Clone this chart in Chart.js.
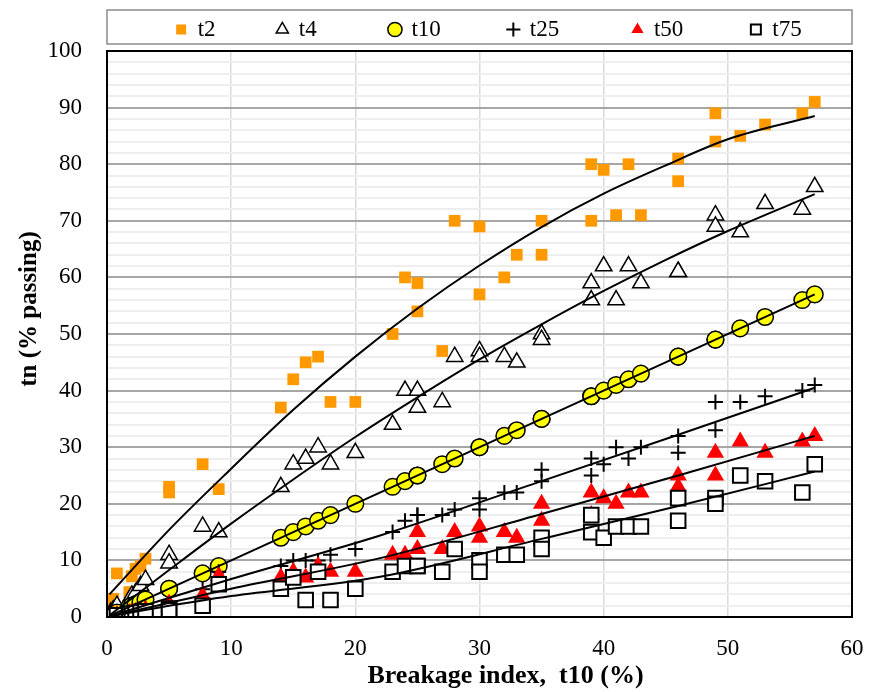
<!DOCTYPE html>
<html lang="en">
<head>
    <meta charset="UTF-8">
    <title>tn vs Breakage index t10</title>
    <script src="https://cdn.jsdelivr.net/npm/chart.js"></script>
    <style>
        html, body { margin: 0; padding: 0; background: #ffffff; }
    </style>
</head>
<body>
    <canvas id="grafico" width="869" height="692"></canvas>

    <script>
        // Breakage index t10 (x) - one entry per test, shared by all series
        const t10 = [0.3, 0.5, 0.8, 1.8, 2.0, 2.3, 2.7, 3.1, 5, 5, 7.7, 9, 14, 15, 16, 17, 18, 20,
                     23, 24, 25, 25, 27, 28, 30, 30, 32, 33, 35, 35,
                     39, 39, 40, 41, 42, 43, 46, 46, 49, 49, 51, 53, 56, 57];

        // tn values (% passing)
        const t2Vals  = [2.4, 3.2, 7.7, 4.4, 7.2, 8.5, 9.0, 10.3, 23, 22, 27, 22.6, 37, 42, 45, 46, 38, 38,
                         50, 60, 59, 54, 47, 70, 69, 57, 60, 64, 70, 64,
                         80, 70, 79, 71, 80, 71, 81, 77, 89, 84, 85, 87, 89, 91];
        const t4Vals  = [0.8, 1.2, 2.0, 3.0, 3.8, 4.2, 5.5, 6.6, 11, 9.5, 16, 15, 23, 27, 28, 30, 27, 29,
                         34, 40, 40, 37, 38, 46, 47, 46, 46, 45, 50, 49,
                         59, 56, 62, 56, 62, 59, 61, 61, 71, 69, 68, 73, 72, 76];
        const t10Vals = t10.slice();
        const t25Vals = [0.1, 0.2, 0.4, 0.8, 1.0, 1.1, 1.3, 1.6, 2.5, 2.2, 4.9, 8, 9, 10, 10, 10, 11, 12,
                         15, 17, 18, 18, 18, 19, 21, 19, 22, 22, 26, 24,
                         28, 25, 27, 30, 28, 30, 32, 29, 38, 33, 38, 39, 40, 41];
        const t50Vals = [0.1, 0.2, 0.4, 0.7, 0.8, 0.9, 1.1, 1.3, 2.4, 1.8, 3.8, 7.3, 7, 8, 7, 9, 8, 8,
                         11, 11, 15, 12, 12, 15, 16, 14, 15, 14, 20, 17,
                         22, 18, 21, 20, 22, 22, 25, 23, 29, 25, 31, 29, 31, 32];
        const t75Vals = [0.1, 0.1, 0.3, 0.5, 0.6, 0.7, 0.8, 1.0, 1.5, 1.2, 2.0, 5.8, 5, 7, 3, 8, 3, 5,
                         8, 9, 9, 9, 8, 12, 10, 8, 11, 11, 14, 12,
                         18, 15, 14, 16, 16, 16, 21, 17, 21, 20, 25, 24, 22, 27];

        // trend lines, points
        const fit2X  = [0.2, 5, 10, 15, 20, 25, 30, 35, 40, 45, 50, 57];
        const fit2Y  = [4.0, 15.4, 26.2, 36.6, 46.0, 54.5, 62.1, 68.9, 74.8, 79.8, 84.4, 88.5];
        const fit4X  = [0.2, 5, 10, 15, 20, 25, 30, 35, 40, 45, 50, 57];
        const fit4Y  = [0.3, 8.3, 16.5, 24.3, 31.8, 38.8, 45.5, 51.7, 57.6, 63.1, 68.2, 74.7];
        const fit10X = [0.2, 57];
        const fit10Y = [0.2, 57];
        const fitLowX = [0.2, 4, 10, 22, 35, 46, 57];
        const fit25Y = [0.1, 2.7, 6.7, 14.4, 24.0, 32.2, 40.5];
        const fit50Y = [0.1, 2.0, 5.0, 10.4, 18.2, 25.0, 32.0];
        const fit75Y = [0.1, 1.6, 3.7, 7.1, 13.8, 19.6, 25.7];

        const pontos = ys => t10.map((x, i) => ({ x: x, y: ys[i] }));
        const curva = (xs, ys) => xs.map((x, i) => ({ x: x, y: ys[i] }));

        const linha = data => ({
            label: '', data: data, showLine: true, pointRadius: 0,
            borderColor: '#000000', borderWidth: 2,
            cubicInterpolationMode: 'monotone', order: 0
        });

        // spaces after each legend text to spread the entries like the original
        const legendGap = { t2: 9, t4: 11, t10: 10, t25: 11, t50: 10, t75: 7 };

        // frame round the plot and box round the legend
        const molduras = {
            id: 'molduras',
            afterDraw(chart) {
                const { ctx, chartArea: a, legend } = chart;
                ctx.save();
                ctx.strokeStyle = '#8c8c8c';
                ctx.lineWidth = 1.5;
                ctx.strokeRect(a.left, legend.top + 2, a.right - a.left, legend.bottom - legend.top - 9);
                ctx.strokeStyle = '#000000';
                ctx.lineWidth = 2;
                ctx.strokeRect(a.left, a.top, a.right - a.left, a.bottom - a.top);
                ctx.restore();
            }
        };

        const serif = '"Liberation Serif", "Times New Roman", serif';
        const fonte = { family: serif, size: 23 };

        new Chart(document.getElementById('grafico').getContext('2d'), {
            type: 'scatter',
            data: {
                datasets: [
                    { label: 't2', data: pontos(t2Vals), pointStyle: 'rect', pointRadius: 8.3,
                      backgroundColor: '#FF9900', borderColor: '#FF9900', borderWidth: 0, order: 6 },
                    { label: 't4', data: pontos(t4Vals), pointStyle: 'triangle', pointRadius: 9.5,
                      backgroundColor: '#FFFFFF', borderColor: '#000000', borderWidth: 1.5, order: 5 },
                    { label: 't10', data: pontos(t10Vals), pointStyle: 'circle', pointRadius: 8.3,
                      backgroundColor: '#FFFF00', borderColor: '#000000', borderWidth: 1.5, order: 4 },
                    { label: 't25', data: pontos(t25Vals), pointStyle: 'cross', pointRadius: 7.5,
                      backgroundColor: '#000000', borderColor: '#000000', borderWidth: 2, order: 3 },
                    { label: 't50', data: pontos(t50Vals), pointStyle: 'triangle', pointRadius: 10,
                      backgroundColor: '#FF0000', borderColor: '#FF0000', borderWidth: 0, order: 2 },
                    { label: 't75', data: pontos(t75Vals), pointStyle: 'rect', pointRadius: 10.3,
                      backgroundColor: '#FFFFFF', borderColor: '#000000', borderWidth: 2, order: 1 },
                    linha(curva(fit2X, fit2Y)),
                    linha(curva(fit4X, fit4Y)),
                    linha(curva(fit10X, fit10Y)),
                    linha(curva(fitLowX, fit25Y)),
                    linha(curva(fitLowX, fit50Y)),
                    linha(curva(fitLowX, fit75Y))
                ]
            },
            options: {
                responsive: false,
                animation: false,
                layout: { padding: { top: 8, right: 17, left: 0, bottom: 0 } },
                plugins: {
                    tooltip: { enabled: false },
                    legend: {
                        position: 'top',
                        align: 'end',
                        labels: {
                            usePointStyle: true,
                            boxWidth: 10,
                            boxHeight: 10,
                            padding: 10,
                            color: '#000000',
                            font: fonte,
                            sort: (a, b) => a.datasetIndex - b.datasetIndex,
                            generateLabels(chart) {
                                const itens = Chart.defaults.plugins.legend.labels.generateLabels(chart);
                                return itens.filter(it => it.text !== '').map(it => {
                                    it.text = it.text + ' '.repeat(legendGap[it.text] || 0);
                                    return it;
                                });
                            }
                        }
                    }
                },
                scales: {
                    x: {
                        type: 'linear',
                        min: 0, max: 60,
                        afterFit(scale) {
                            scale.height = 75;
                            scale.paddingLeft = 0;
                            scale.paddingRight = 0;
                        },
                        border: { display: false },
                        grid: { color: '#d9d9d9', lineWidth: 1.5, drawTicks: false },
                        ticks: { stepSize: 10, padding: 18, color: '#000000', font: fonte, maxRotation: 0 },
                        title: {
                            display: true, text: '        Breakage index,  t10 (%)', color: '#000000',
                            font: { family: serif, size: 26, weight: 'bold' }, padding: { top: 0, bottom: 0 }
                        }
                    },
                    y: {
                        type: 'linear',
                        min: 0, max: 100,
                        afterFit(scale) { scale.width = 107; },
                        border: { display: false },
                        grid: {
                            drawTicks: false,
                            color: ctx => (ctx.tick && ctx.tick.value % 10 === 0) ? '#a6a6a6' : '#eeeeee',
                            lineWidth: 2
                        },
                        ticks: {
                            stepSize: 2, autoSkip: false, padding: 25, color: '#000000', font: fonte,
                            callback: v => (v % 10 === 0 ? v : '')
                        },
                        title: {
                            display: true, text: '        tn (% passing)', color: '#000000',
                            font: { family: serif, size: 25, weight: 'bold' }, padding: { top: 15, bottom: 0 }
                        }
                    }
                }
            },
            plugins: [molduras]
        });
    </script>
</body>
</html>
